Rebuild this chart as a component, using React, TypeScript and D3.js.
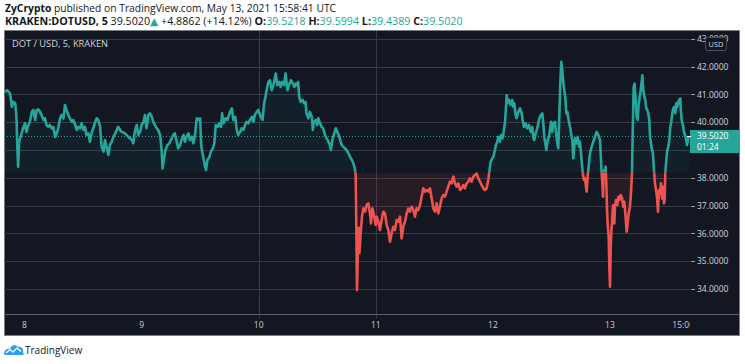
import React from "react";
import * as d3 from "d3";

// DOT/USD 5m, KRAKEN — hours counted from May 8 00:00, price in USD
const may8: [number, number][] = [
  [-4.0, 41.09], [-3.5, 41.15], [-3.0, 41.04], [-2.8, 40.86], [-2.6, 40.55], [-2.3, 40.73], [-1.9, 40.68], [-1.7, 40.32],
  [-1.6, 39.96], [-1.5, 39.24], [-1.3, 38.4], [-1.1, 39.3], [-0.8, 39.47], [-0.5, 39.65], [-0.2, 39.83], [0.1, 39.96],
  [0.4, 39.65], [0.8, 39.9], [1.1, 40.01], [1.5, 40.37], [1.8, 40.44], [2.2, 40.08], [2.5, 40.44], [2.8, 40.46],
  [3.2, 40.37], [3.5, 40.26], [3.9, 40.08], [4.2, 40.14], [4.5, 39.9], [4.9, 39.83], [5.2, 39.9], [5.6, 39.78],
  [5.9, 39.83], [6.3, 39.47], [6.6, 39.6], [6.9, 39.78], [7.3, 40.14], [7.6, 40.26], [8.0, 40.14], [8.3, 40.62],
  [8.6, 40.44], [9.0, 40.26], [9.3, 40.14], [9.7, 40.01], [10.0, 40.08], [10.4, 39.9], [10.7, 39.72], [11.0, 39.83],
  [11.4, 39.78], [11.7, 39.96], [12.1, 39.72], [12.4, 39.83], [12.7, 39.54], [13.1, 39.6], [13.4, 39.3], [13.8, 39.65],
  [14.1, 39.78], [14.5, 40.01], [14.8, 40.14], [15.1, 40.08], [15.5, 39.83], [15.8, 39.12], [16.2, 38.94], [16.5, 39.36],
  [16.8, 39.12], [17.2, 38.82], [17.5, 39.18], [17.9, 39.3], [18.2, 39.47], [18.6, 39.6], [19.2, 39.83], [19.9, 39.65],
  [20.6, 39.6], [21.3, 39.47], [22.0, 39.36], [22.3, 39.24], [22.6, 39.65], [23.0, 39.9], [23.3, 39.54], [23.7, 39.65],
];
const may9: [number, number][] = [
  [24.0, 39.9], [24.4, 40.01], [24.7, 40.26], [25.0, 39.78], [25.4, 40.26], [25.7, 40.32], [26.1, 40.19], [26.4, 40.01],
  [26.7, 39.9], [27.1, 39.78], [27.4, 39.72], [27.8, 39.54], [28.1, 39.0], [28.3, 38.34], [28.7, 38.82], [28.9, 39.0],
  [29.3, 39.18], [29.7, 39.24], [30.0, 39.36], [30.5, 39.54], [30.8, 39.6], [31.2, 39.3], [31.5, 39.06], [31.9, 39.18],
  [32.2, 39.36], [32.6, 39.54], [32.9, 39.3], [33.2, 39.47], [33.6, 39.6], [33.9, 39.36], [34.3, 39.47], [34.6, 39.24],
  [34.9, 39.47], [35.3, 40.14], [35.6, 40.08], [36.0, 40.14], [36.2, 39.24], [36.4, 38.94], [36.7, 38.7], [37.0, 38.4],
  [37.2, 38.28], [37.5, 38.64], [37.9, 38.76], [38.2, 38.94], [38.6, 39.06], [38.9, 39.24], [39.2, 39.9], [39.6, 39.83],
  [39.9, 39.96], [40.3, 39.83], [40.5, 40.32], [40.8, 39.96], [41.2, 40.14], [41.6, 40.08], [41.9, 40.26], [42.3, 40.44],
  [42.5, 40.5], [42.8, 40.08], [43.2, 40.19], [43.5, 39.72], [43.8, 39.54], [44.2, 39.65], [44.5, 39.78], [44.9, 39.72],
  [45.2, 39.9], [45.5, 40.01], [45.9, 39.96], [46.2, 40.08], [46.6, 40.19], [46.9, 40.01], [47.2, 40.26], [47.6, 40.37],
  [47.9, 40.44],
];
const may10: [number, number][] = [
  [48.3, 40.26], [48.6, 40.14], [48.8, 40.08], [49.1, 40.68], [49.4, 40.91], [49.6, 41.15], [50.0, 41.45], [50.3, 41.51],
  [50.7, 41.15], [51.0, 41.33], [51.3, 41.57], [51.5, 41.75], [51.8, 41.33], [52.2, 41.45], [52.5, 41.27], [52.8, 41.45],
  [53.2, 41.33], [53.5, 41.75], [53.9, 41.15], [54.2, 41.33], [54.6, 41.51], [55.0, 41.39], [55.3, 41.27], [55.6, 41.39],
  [55.9, 41.33], [56.1, 41.45], [56.3, 40.91], [56.6, 40.73], [57.0, 40.8], [57.3, 40.68], [57.6, 40.73], [57.8, 40.32],
  [58.2, 40.14], [58.5, 40.37], [58.9, 40.19], [59.1, 39.72], [59.3, 40.01], [59.7, 40.08], [60.0, 39.9], [60.2, 40.14],
  [60.6, 39.96], [60.9, 39.83], [61.2, 39.78], [61.6, 39.54], [61.9, 39.42], [62.3, 39.3], [62.6, 39.18], [62.8, 39.0],
  [63.1, 39.36], [63.4, 39.54], [63.8, 39.78], [64.1, 39.65], [64.4, 39.54], [64.7, 39.36], [65.0, 39.18], [65.3, 39.12],
  [65.7, 39.06], [66.0, 39.0], [66.4, 38.88], [66.7, 38.76], [67.1, 38.64], [67.4, 38.52], [67.7, 38.34], [67.88, 38.1],
  [68.01, 36.24], [68.15, 33.96], [68.35, 35.52], [68.5, 36.2], [68.65, 35.3], [68.9, 36.0], [69.17, 36.6], [69.44, 36.9],
  [69.79, 36.78], [70.13, 37.02], [70.47, 37.08], [70.81, 36.72], [71.02, 36.36], [71.29, 36.9], [71.63, 36.66], [71.97, 36.3],
];
const may11: [number, number][] = [
  [72.18, 36.6], [72.52, 36.42], [72.86, 36.12], [73.2, 36.48], [73.54, 36.78], [73.88, 36.72], [74.23, 36.3], [74.57, 36.12],
  [74.91, 35.7], [75.25, 36.0], [75.59, 36.24], [75.93, 36.12], [76.28, 36.48], [76.62, 36.42], [76.96, 36.6], [77.3, 35.82],
  [77.64, 36.24], [77.98, 36.42], [78.33, 36.72], [78.67, 36.9], [79.01, 36.78], [79.35, 36.96], [79.69, 36.84], [80.03, 36.6],
  [80.37, 36.9], [80.71, 36.84], [81.06, 37.02], [81.4, 37.32], [81.74, 37.62], [82.08, 37.5], [82.42, 37.56], [82.77, 37.5],
  [83.11, 37.62], [83.45, 37.26], [83.79, 36.9], [84.13, 36.78], [84.47, 37.08], [84.81, 36.72], [85.16, 36.96], [85.5, 37.26],
  [85.84, 37.38], [86.18, 37.32], [86.52, 37.5], [86.86, 37.68], [87.21, 37.86], [87.55, 37.8], [87.89, 38.04], [88.23, 37.8],
  [88.57, 37.68], [88.91, 37.8], [89.26, 37.56], [89.6, 37.62], [89.94, 37.74], [90.28, 37.62], [90.62, 37.8], [90.96, 37.86],
  [91.31, 37.98], [91.65, 37.86], [91.99, 38.04], [92.33, 38.1], [92.67, 38.16], [93.01, 37.98], [93.36, 37.86], [93.7, 37.74],
  [94.04, 37.62], [94.38, 37.56], [94.72, 37.62], [95.06, 37.92], [95.27, 38.22], [95.54, 38.58], [95.88, 38.7],
];
const may12: [number, number][] = [
  [96.09, 38.76], [96.43, 39.0], [96.63, 39.18], [96.91, 39.3], [97.11, 39.47], [97.45, 39.3], [97.66, 39.54], [98.0, 39.42],
  [98.27, 39.72], [98.48, 40.01], [98.68, 40.5], [98.82, 40.97], [99.02, 40.68], [99.3, 40.8], [99.64, 40.62], [99.98, 40.8],
  [100.19, 40.55], [100.39, 40.68], [100.66, 40.26], [100.87, 40.14], [101.21, 40.37], [101.55, 40.5], [101.89, 40.32], [102.1, 40.08],
  [102.37, 39.83], [102.71, 39.96], [103.05, 39.78], [103.4, 39.9], [103.74, 39.65], [104.08, 39.83], [104.28, 39.42], [104.49, 39.36],
  [104.76, 39.6], [105.1, 39.78], [105.44, 40.08], [105.65, 40.19], [105.85, 40.26], [106.13, 40.32], [106.33, 39.96], [106.54, 39.47],
  [106.74, 39.24], [106.95, 39.0], [107.22, 39.36], [107.5, 39.47], [107.7, 39.72], [107.91, 40.01], [108.18, 39.65], [108.38, 39.96],
  [108.73, 40.01], [108.93, 39.65], [109.2, 39.24], [109.41, 39.06], [109.61, 40.19], [109.82, 41.39], [110.02, 42.17], [110.23, 41.87],
  [110.43, 41.45], [110.64, 41.15], [110.84, 40.91], [111.05, 40.32], [111.25, 40.37], [111.46, 40.14], [111.66, 39.96], [111.87, 39.78],
  [112.07, 39.54], [112.28, 39.36], [112.48, 38.7], [112.69, 39.12], [112.89, 39.42], [113.17, 39.24], [113.37, 39.47], [113.65, 39.12],
  [113.85, 39.3], [114.06, 38.88], [114.26, 38.46], [114.47, 38.1], [114.67, 37.92], [114.88, 37.98], [115.08, 37.68], [115.22, 37.5],
  [115.42, 38.04], [115.7, 38.52], [115.9, 38.88], [116.25, 39.12], [116.58, 39.3], [116.93, 39.47], [117.27, 39.65], [117.61, 39.54],
  [117.96, 39.36], [118.16, 38.64], [118.29, 38.16], [118.43, 37.8], [118.57, 37.32], [118.7, 38.04], [118.84, 38.28], [118.98, 38.22],
  [119.11, 38.4], [119.25, 37.8], [119.39, 36.84], [119.52, 36.36], [119.73, 35.88], [119.87, 34.8],
];
const may13: [number, number][] = [
  [120.01, 34.08], [120.14, 35.4], [120.28, 36.12], [120.42, 36.36], [120.55, 36.84], [120.69, 37.02], [120.89, 36.36], [121.03, 36.96],
  [121.24, 37.2], [121.51, 37.02], [121.72, 37.32], [121.92, 37.2], [122.19, 37.38], [122.47, 37.26], [122.73, 36.96], [122.94, 37.14],
  [123.14, 36.72], [123.42, 36.06], [123.62, 36.36], [123.82, 36.72], [124.1, 36.96], [124.3, 37.44], [124.51, 38.16], [124.64, 39.47],
  [124.85, 41.27], [125.05, 41.39], [125.26, 40.8], [125.46, 40.19], [125.67, 40.08], [125.87, 40.62], [126.08, 40.91], [126.29, 41.15],
  [126.49, 41.45], [126.63, 41.69], [126.83, 41.15], [127.04, 40.91], [127.24, 40.8], [127.44, 40.5], [127.65, 40.44], [127.85, 40.32],
  [128.06, 40.08], [128.2, 39.47], [128.4, 39.24], [128.61, 39.0], [128.81, 38.88], [129.02, 38.28], [129.22, 37.8], [129.43, 37.56],
  [129.63, 37.32], [129.84, 36.78], [130.04, 37.56], [130.25, 37.44], [130.45, 37.8], [130.66, 37.26], [130.86, 37.68], [131.07, 37.08],
  [131.2, 37.2], [131.34, 38.16], [131.54, 38.64], [131.75, 39.0], [131.95, 39.12], [132.16, 39.36], [132.36, 39.83], [132.57, 40.01],
  [132.77, 40.32], [132.98, 40.5], [133.18, 40.55], [133.39, 40.32], [133.59, 40.68], [133.8, 40.55], [134.0, 40.73], [134.21, 40.8],
  [134.41, 40.86], [134.55, 40.37], [134.75, 40.01], [134.96, 39.9], [135.16, 39.65], [135.37, 39.54], [135.57, 39.42], [135.78, 39.18],
  [135.98, 39.36], [136.19, 39.5],
];

const priceTicks = [34, 35, 36, 37, 38, 40, 41, 42, 43];
const priceGrid = [34, 35, 36, 37, 38, 39, 40, 41, 42, 43];
const timeTicks = [0, 24, 48, 72, 96, 120, 135];
const timeLabels = ["8", "9", "10", "11", "12", "13", "15:00"];
const timeGrid = [48, 72];
const lastPrice = 39.502;
const countdown = "01:24";

const UP = "#26a69a";
const DOWN = "#ef5350";
const BG = "#131722";
const FONT = "'Open Sans', 'DejaVu Sans', sans-serif";

export default function App() {
  const data = [...may8, ...may9, ...may10, ...may11, ...may12, ...may13];

  const left = 4, right = 690, top = 31, bottom = 314;
  const x = d3.scaleLinear().domain([-4.2, 136.4]).range([left, right]);
  const y = d3.scaleLinear().domain([33.1, 43.28]).range([bottom, top]);
  const baseY = y((33.1 + 43.28) / 2);

  const line = d3.line<[number, number]>().x(d => x(d[0])).y(d => y(d[1]));
  const area = d3.area<[number, number]>().x(d => x(d[0])).y0(baseY).y1(d => y(d[1]));
  const lastY = y(lastPrice);

  return (
    <svg width={745} height={364} style={{ position: "absolute", left: 0, top: 0, display: "block" }} fontFamily={FONT}>
      <defs>
        <clipPath id="plot"><rect x={left} y={top} width={right - left} height={bottom - top} /></clipPath>
        <clipPath id="above"><rect x={left} y={top} width={right - left} height={baseY - top} /></clipPath>
        <clipPath id="below"><rect x={left} y={baseY} width={right - left} height={bottom - baseY} /></clipPath>
        <clipPath id="timeAxis"><rect x={left} y={bottom} width={right - left} height={22} /></clipPath>
      </defs>
      <rect width={745} height={364} fill="#fff" />

      {/* header */}
      <text x={5} y={12} fontSize={10.3} fill="#131722">
        <tspan fontWeight="bold">ZyCrypto</tspan>
        <tspan> published on TradingView.com, May 13, 2021 15:58:41 UTC</tspan>
      </text>
      <text x={5} y={25} fontSize={10.7} fill="#131722">
        <tspan fontWeight="bold">KRAKEN:DOTUSD, 5</tspan>
        <tspan> 39.5020</tspan>
        <tspan fill={UP}>▲</tspan>
        <tspan> +4.8862 (+14.12%) </tspan>
        <tspan fontWeight="bold">O:</tspan><tspan fill={UP}>39.5218 </tspan>
        <tspan fontWeight="bold">H:</tspan><tspan fill={UP}>39.5994 </tspan>
        <tspan fontWeight="bold">L:</tspan><tspan fill={UP}>39.4389 </tspan>
        <tspan fontWeight="bold">C:</tspan><tspan fill={UP}>39.5020</tspan>
      </text>

      {/* panel */}
      <rect x={4.5} y={30.5} width={735} height={305} fill={BG} stroke="#7b7e87" />

      {priceGrid.map(p => (
        <line key={p} x1={left} x2={right} y1={Math.round(y(p)) + 0.5} y2={Math.round(y(p)) + 0.5} stroke="#363a45" />
      ))}
      {timeGrid.map(t => (
        <line key={t} x1={Math.round(x(t)) + 0.5} x2={Math.round(x(t)) + 0.5} y1={top} y2={bottom + 4} stroke="#363a45" />
      ))}

      {/* baseline fills and line */}
      <path d={area(data) ?? ""} fill={UP} fillOpacity={0.06} clipPath="url(#above)" />
      <path d={area(data) ?? ""} fill={DOWN} fillOpacity={0.09} clipPath="url(#below)" />
      <path d={line(data) ?? ""} fill="none" stroke={UP} strokeWidth={2.6} strokeLinejoin="round" clipPath="url(#above)" />
      <path d={line(data) ?? ""} fill="none" stroke={DOWN} strokeWidth={2.6} strokeLinejoin="round" clipPath="url(#below)" />

      <line x1={left} x2={right} y1={Math.round(lastY) + 0.5} y2={Math.round(lastY) + 0.5} stroke={UP} strokeDasharray="1 2" />

      {/* time axis */}
      <line x1={left} x2={739} y1={bottom + 0.5} y2={bottom + 0.5} stroke="#5d606b" />
      <g clipPath="url(#timeAxis)">
        {timeTicks.map((t, i) => (
          <text key={t} x={x(t)} y={327.5} fontSize={8.5} fill="#c9ccd3" textAnchor="middle">{timeLabels[i]}</text>
        ))}
      </g>

      {/* price axis */}
      {priceTicks.map(p => (
        <g key={p}>
          <line x1={691} x2={695} y1={Math.round(y(p)) + 0.5} y2={Math.round(y(p)) + 0.5} stroke="#9a9da6" />
          <text x={697} y={y(p) + 3.2} fontSize={8.5} fill="#d1d4dc">{p.toFixed(4)}</text>
        </g>
      ))}
      <rect x={705.5} y={37.5} width={21} height={13} rx={2} fill={BG} stroke="#4c4f5a" />
      <text x={716} y={47} fontSize={7.5} fill="#d1d4dc" textAnchor="middle">USD</text>

      <rect x={690} y={lastY - 6} width={49} height={23} fill={UP} />
      <line x1={687} x2={691} y1={Math.round(lastY) + 0.5} y2={Math.round(lastY) + 0.5} stroke="#fff" />
      <text x={697} y={lastY + 3.2} fontSize={8.5} fill="#fff">{lastPrice.toFixed(4)}</text>
      <text x={697} y={lastY + 14} fontSize={8.5} fill="#fff">{countdown}</text>

      <text x={12} y={47.3} fontSize={9.3} fill="#d1d4dc">DOT / USD, 5, KRAKEN</text>

      {/* footer logo */}
      <g transform="translate(4,343)">
        <path d="M0 11 C0 7 3 5 6 6 C7 2 12 1 14 4 C17 3 20 6 19 9 C20 10 20 12 18 12 L2 12 C0.5 12 0 11.5 0 11 Z" fill="#2a9df4" />
        <path d="M2 10 L6 6.5 L9 9 L13 5 L17 8.5" fill="none" stroke="#fff" strokeWidth={1.3} />
      </g>
      <text x={25} y={354} fontSize={10} fill="#131722">TradingView</text>
    </svg>
  );
}
